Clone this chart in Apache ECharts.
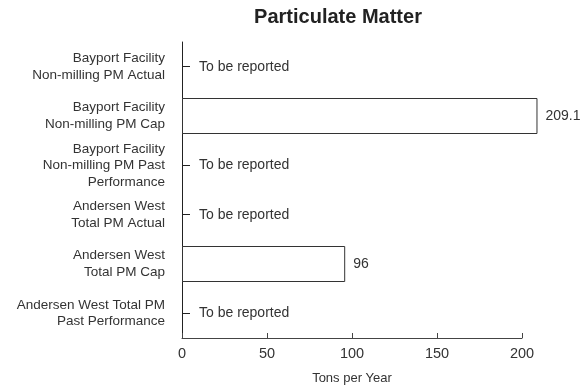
<!DOCTYPE html>
<html>
<head>
<meta charset="utf-8">
<script src="https://cdn.jsdelivr.net/npm/echarts@6/dist/echarts.min.js"></script>
<style>
  html, body { margin: 0; padding: 0; background: #fff; }
  #chart { width: 585px; height: 387px; }
</style>
</head>
<body>
<div id="chart"></div>
<script>
const categories = [
  'Bayport Facility\nNon-milling PM Actual',
  'Bayport Facility\nNon-milling PM Cap',
  'Bayport Facility\nNon-milling PM Past\nPerformance',
  'Andersen West\nTotal PM Actual',
  'Andersen West\nTotal PM Cap',
  'Andersen West Total PM\nPast Performance'
]
const values = [0, 209.1, 0, 0, 96, 0]
const xTicks = [0, 50, 100, 150, 200]

const TEXT_COLOR = '#333'
const FONT = 'Liberation Sans, Arial, sans-serif'

// zero rows get a "To be reported" note instead of a bar
const barData = values.map(v => {
  if (v === 0) {
    return {
      value: v,
      itemStyle: { borderWidth: 0 },
      label: { formatter: 'To be reported', distance: 17 }
    }
  }
  return { value: v }
})

const myChart = echarts.init(document.getElementById('chart'))

myChart.setOption({
  animation: false,
  title: {
    text: 'Particulate Matter',
    left: 333,
    textAlign: 'center',
    top: 2,
    textStyle: { fontFamily: FONT, fontSize: 20, fontWeight: 'bold', color: '#222' }
  },
  grid: {
    left: 182, right: 63, top: 42, bottom: 49,
    containLabel: false, outerBoundsMode: 'none'
  },
  xAxis: {
    type: 'value',
    min: xTicks[0],
    max: xTicks[xTicks.length - 1],
    interval: 50,
    name: 'Tons per Year',
    nameLocation: 'middle',
    nameGap: 34,
    nameTextStyle: { fontFamily: FONT, fontSize: 13, color: TEXT_COLOR },
    axisLine: { show: true, lineStyle: { color: '#444', width: 1 } },
    axisTick: { show: true, inside: true, length: 5, lineStyle: { color: '#444' } },
    axisLabel: { fontFamily: FONT, fontSize: 14.5, color: TEXT_COLOR, margin: 8 },
    splitLine: { show: false }
  },
  yAxis: {
    type: 'category',
    data: categories,
    inverse: true,
    axisLine: { show: true, lineStyle: { color: '#222', width: 1 } },
    axisTick: {
      show: true, inside: true, alignWithLabel: true, length: 8,
      lineStyle: { color: '#222' }
    },
    axisLabel: {
      fontFamily: FONT, fontSize: 13.5, color: TEXT_COLOR,
      lineHeight: 16.5, margin: 17, align: 'right'
    }
  },
  series: [{
    type: 'bar',
    data: barData,
    barWidth: 36,
    clip: false,
    itemStyle: { color: '#fff', borderColor: '#333', borderWidth: 1 },
    label: {
      show: true,
      position: 'right',
      distance: 8,
      fontFamily: FONT,
      fontSize: 14,
      color: TEXT_COLOR
    }
  }]
})
</script>
</body>
</html>
